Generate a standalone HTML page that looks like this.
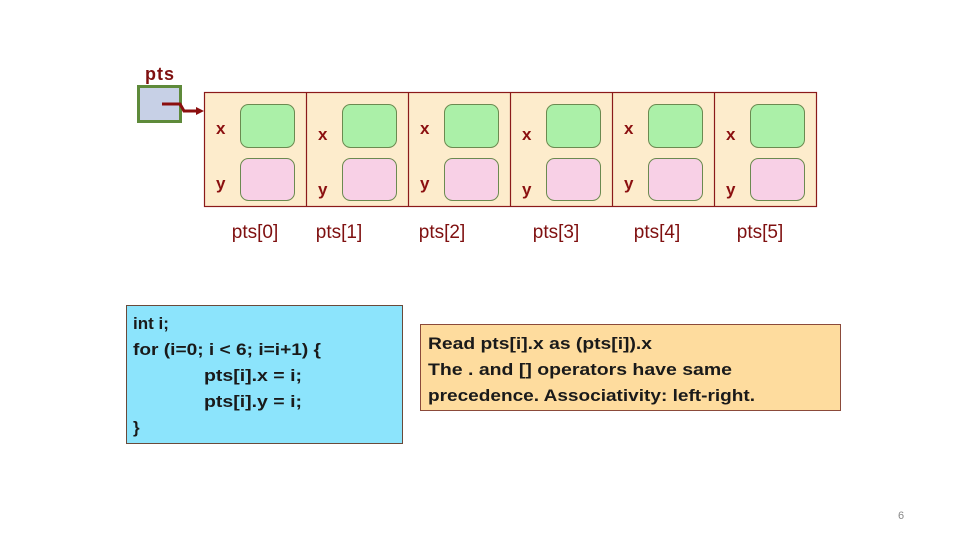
<!DOCTYPE html>
<html><head><meta charset="utf-8"><style>html,body{margin:0;padding:0;background:#fff}svg{display:block}</style></head>
<body>
<svg width="960" height="540" viewBox="0 0 960 540" xmlns="http://www.w3.org/2000/svg" font-family="Liberation Sans, sans-serif">
<rect x="0" y="0" width="960" height="540" fill="#fff"/>
<text x="145" y="80" font-size="18" font-weight="bold" fill="#7f1010" textLength="29">pts</text>
<rect x="138.5" y="86.5" width="42" height="35" fill="#c7d0e6" stroke="#5e8a3a" stroke-width="3"/>
<polyline points="162,104 180,104 184,111 198,111" fill="none" stroke="#8b0e0e" stroke-width="3"/>
<polygon points="204,111 196,107 196,115" fill="#8b0e0e"/>
<rect x="204.5" y="92.5" width="612" height="114" fill="#fdeccc" stroke="#8b1a1a" stroke-width="1.2"/>
<g stroke="#8b1a1a" stroke-width="1.2">
<line x1="306.5" y1="92.5" x2="306.5" y2="206.5"/><line x1="408.5" y1="92.5" x2="408.5" y2="206.5"/>
<line x1="510.5" y1="92.5" x2="510.5" y2="206.5"/><line x1="612.5" y1="92.5" x2="612.5" y2="206.5"/>
<line x1="714.5" y1="92.5" x2="714.5" y2="206.5"/></g>
<g stroke="#6b8a50" stroke-width="1">
<rect x="240.5" y="104.5" width="54" height="43" rx="8" fill="#abf0a8"/><rect x="240.5" y="158.5" width="54" height="42" rx="8" fill="#f8d0e6"/>
<rect x="342.5" y="104.5" width="54" height="43" rx="8" fill="#abf0a8"/><rect x="342.5" y="158.5" width="54" height="42" rx="8" fill="#f8d0e6"/>
<rect x="444.5" y="104.5" width="54" height="43" rx="8" fill="#abf0a8"/><rect x="444.5" y="158.5" width="54" height="42" rx="8" fill="#f8d0e6"/>
<rect x="546.5" y="104.5" width="54" height="43" rx="8" fill="#abf0a8"/><rect x="546.5" y="158.5" width="54" height="42" rx="8" fill="#f8d0e6"/>
<rect x="648.5" y="104.5" width="54" height="43" rx="8" fill="#abf0a8"/><rect x="648.5" y="158.5" width="54" height="42" rx="8" fill="#f8d0e6"/>
<rect x="750.5" y="104.5" width="54" height="43" rx="8" fill="#abf0a8"/><rect x="750.5" y="158.5" width="54" height="42" rx="8" fill="#f8d0e6"/>
</g>
<g font-size="17" font-weight="bold" fill="#8b1010">
<text x="216" y="134">x</text><text x="216" y="189">y</text>
<text x="318" y="140">x</text><text x="318" y="195">y</text>
<text x="420" y="134">x</text><text x="420" y="189">y</text>
<text x="522" y="140">x</text><text x="522" y="195">y</text>
<text x="624" y="134">x</text><text x="624" y="189">y</text>
<text x="726" y="140">x</text><text x="726" y="195">y</text>
</g>
<g font-size="19" fill="#7f1010" text-anchor="middle">
<text x="255" y="238">pts[0]</text><text x="339" y="238">pts[1]</text><text x="442" y="238">pts[2]</text>
<text x="556" y="238">pts[3]</text><text x="657" y="238">pts[4]</text><text x="760" y="238">pts[5]</text>
</g>
<rect x="126.5" y="305.5" width="276" height="138" fill="#8ce4fc" stroke="#6a4a3a" stroke-width="1"/>
<g font-size="17" font-weight="bold" fill="#1a1a1a">
<text x="133" y="329">int i;</text>
<text x="133" y="355" textLength="188" lengthAdjust="spacingAndGlyphs">for (i=0; i &lt; 6; i=i+1) {</text>
<text x="204" y="381" textLength="98" lengthAdjust="spacingAndGlyphs">pts[i].x = i;</text>
<text x="204" y="407" textLength="98" lengthAdjust="spacingAndGlyphs">pts[i].y = i;</text>
<text x="133" y="433">}</text>
</g>
<rect x="420.5" y="324.5" width="420" height="86" fill="#fedc9e" stroke="#8b4a3a" stroke-width="1"/>
<g font-size="17" font-weight="bold" fill="#1a1a1a">
<text x="428" y="349" textLength="224" lengthAdjust="spacingAndGlyphs">Read pts[i].x as (pts[i]).x</text>
<text x="428" y="375" textLength="304" lengthAdjust="spacingAndGlyphs">The .  and [] operators have same</text>
<text x="428" y="401" textLength="327" lengthAdjust="spacingAndGlyphs">precedence. Associativity: left-right.</text>
</g>
<text x="901" y="519" font-size="11" fill="#888" text-anchor="middle">6</text>
</svg>
</body></html>
